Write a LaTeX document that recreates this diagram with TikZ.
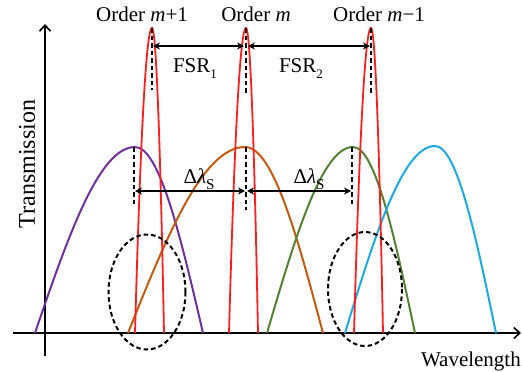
\documentclass[tikz,border=0pt]{standalone}
\usepackage{fontspec}
\setmainfont{Liberation Serif}
\usetikzlibrary{arrows.meta}
\definecolor{cpurple}{RGB}{112,48,160}
\definecolor{cbrown}{RGB}{197,90,17}
\definecolor{cgreen}{RGB}{84,130,53}
\definecolor{cblue}{RGB}{30,170,230}
\definecolor{cred}{RGB}{255,30,30}
\begin{document}
\begin{tikzpicture}[x=1pt,y=-1pt,
  axisline/.style={line width=1.8pt,-{Straight Barb[length=6pt,width=11pt,line width=1.6pt]}},
  curve/.style={line width=2pt},
  redpk/.style={cred,line width=1.8pt},
  dsh/.style={line width=2pt,dash pattern=on 4.5pt off 3pt},
  dim/.style={line width=1.4pt,{Stealth[length=7pt,width=7pt]}-{Stealth[length=7pt,width=7pt]}},
  lbl/.style={inner sep=0pt,font=\fontsize{21}{24}\selectfont}]
\useasboundingbox (0,0) rectangle (522,372);
% axes
\coordinate (yb) at (45,356);
\coordinate (yt) at (45,24);
\coordinate (xl) at (13,333);
\coordinate (xr) at (521,333);
\draw[axisline] (yb) -- (yt);
\draw[axisline] (xl) -- (xr);
% broad curves
\draw[cpurple,curve] (35,333) sin (135,147) cos (203,333);
\draw[cbrown,curve] (128,333) sin (245,147) cos (323,333);
\draw[cgreen,curve] (267,333) sin (353,147) cos (415,333);
\draw[cblue,curve] (345,333) sin (435,146) cos (496,333);
% red peaks
\draw[redpk] (135,333) parabola bend (152,28) (164,333);
\draw[redpk] (229,333) parabola bend (246,28) (258,333);
\draw[redpk] (354,333) parabola bend (371,28) (383,333);
% dashed markers
\coordinate (p1t) at (152,28); \coordinate (p1b) at (152,90);
\coordinate (p2t) at (246,28); \coordinate (p2b) at (246,95);
\coordinate (p3t) at (371,28); \coordinate (p3b) at (371,95);
\draw[dsh] (p1t) -- (p1b);
\draw[dsh] (p2t) -- (p2b);
\draw[dsh] (p3t) -- (p3b);
\coordinate (c1t) at (134,147); \coordinate (c1b) at (134,206);
\coordinate (c2t) at (246,147); \coordinate (c2b) at (246,210);
\coordinate (c3t) at (352,147); \coordinate (c3b) at (352,206);
\draw[dsh] (c1t) -- (c1b);
\draw[dsh] (c2t) -- (c2b);
\draw[dsh] (c3t) -- (c3b);
% dimension arrows
\coordinate (f1a) at (153,46); \coordinate (f1b) at (244,46);
\coordinate (f2a) at (248,46); \coordinate (f2b) at (370,46);
\draw[dim] (f1a) -- (f1b);
\draw[dim] (f2a) -- (f2b);
\coordinate (d1a) at (135,191); \coordinate (d1b) at (245,191);
\coordinate (d2a) at (247,191); \coordinate (d2b) at (351,191);
\draw[dim] (d1a) -- (d1b);
\draw[dim] (d2a) -- (d2b);
% ellipses
\draw[dsh] (147,292) ellipse [x radius=38.5, y radius=57.5];
\draw[dsh] (365,289) ellipse [x radius=37, y radius=57];
% labels
\node[lbl,anchor=base] (o1) at (142,21) {Order \textit{m}+1};
\node[lbl,anchor=base] (o2) at (256,21) {Order \textit{m}};
\node[lbl,anchor=base] (o3) at (379,21) {Order \textit{m}−1};
\node[lbl,anchor=base] (fsr1) at (195,72) {FSR\raisebox{-0.3em}{\fontsize{13}{13}\selectfont 1}};
\node[lbl,anchor=base] (fsr2) at (301,72) {FSR\raisebox{-0.3em}{\fontsize{13}{13}\selectfont 2}};
\node[lbl,anchor=base] (dl1) at (199,183) {Δ\textit{λ}\raisebox{-0.3em}{\fontsize{15}{15}\selectfont S}};
\node[lbl,anchor=base] (dl2) at (309,183) {Δ\textit{λ}\raisebox{-0.3em}{\fontsize{15}{15}\selectfont S}};
\node[lbl,anchor=base east] (wl) at (521,366) {Wavelength};
\node[lbl,rotate=90,font=\fontsize{24}{27}\selectfont] (tr) at (27,164) {Transmission};
\end{tikzpicture}
\end{document}
